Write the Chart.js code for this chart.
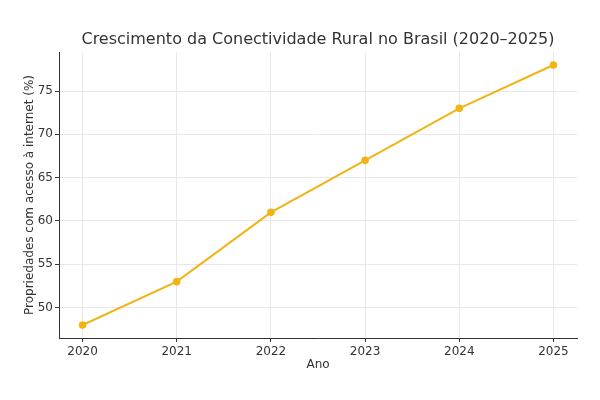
<!DOCTYPE html>
<html>
<head>
<meta charset="utf-8">
<script src="https://cdn.jsdelivr.net/npm/chart.js@4"></script>
<style>
html,body{margin:0;padding:0;background:#fff;}
#wrap{width:600px;height:400px;}
</style>
</head>
<body>
<div id="wrap"><canvas id="c" width="600" height="400"></canvas></div>
<script>
const years = [2020, 2021, 2022, 2023, 2024, 2025];
const values = [48, 53, 61, 67, 73, 78];
const yTicks = [50, 55, 60, 65, 70, 75];
const titleText = 'Crescimento da Conectividade Rural no Brasil (2020–2025)';
const xTitle = 'Ano';
const yTitle = 'Propriedades com acesso à internet (%)';

const FONT = 'DejaVu Sans';
const TXT = '#333333';
const GOLD = '#f1b415';

const axesTitle = {
  id: 'axesTitle',
  afterDraw(chart) {
    const {ctx, chartArea} = chart;
    ctx.save();
    ctx.fillStyle = TXT;
    ctx.font = '16px "' + FONT + '"';
    ctx.textAlign = 'center';
    ctx.textBaseline = 'middle';
    ctx.fillText(titleText, (chartArea.left + chartArea.right) / 2, 40);
    ctx.restore();
  }
};

new Chart(document.getElementById('c'), {
  type: 'line',
  data: {
    datasets: [{
      data: years.map((y, i) => ({x: y, y: values[i]})),
      borderColor: GOLD,
      backgroundColor: GOLD,
      borderWidth: 2,
      pointRadius: 2.8,
      pointHoverRadius: 2.8,
      tension: 0
    }]
  },
  plugins: [axesTitle],
  options: {
    responsive: false,
    animation: false,
    devicePixelRatio: 1,
    layout: {padding: {left: 0, right: 23, top: 52, bottom: 0}},
    plugins: {
      legend: {display: false},
      tooltip: {enabled: false},
      title: {display: false}
    },
    scales: {
      x: {
        type: 'linear',
        min: 2019.75,
        max: 2025.25,
        afterBuildTicks: s => { s.ticks = years.map(v => ({value: v})); },
        afterFit: s => { s.height = 62; },
        ticks: {
          color: TXT,
          font: {family: FONT, size: 12},
          padding: 3,
          callback: v => String(v)
        },
        grid: {color: '#e8e8e8', lineWidth: 1, tickLength: 4, tickColor: '#333'},
        border: {display: true, color: '#333', width: 1},
        title: {
          display: true, text: xTitle, color: TXT,
          font: {family: FONT, size: 12},
          padding: {top: 0, bottom: 28}
        }
      },
      y: {
        type: 'linear',
        min: 46.5,
        max: 79.5,
        afterBuildTicks: s => { s.ticks = yTicks.map(v => ({value: v})); },
        afterFit: s => { s.width = 59; },
        ticks: {
          color: TXT,
          font: {family: FONT, size: 12},
          padding: 2
        },
        grid: {color: '#e8e8e8', lineWidth: 1, tickLength: 4, tickColor: '#333'},
        border: {display: true, color: '#333', width: 1},
        title: {
          display: true, text: yTitle, color: TXT,
          font: {family: FONT, size: 12},
          padding: {top: 23, bottom: 0}
        }
      }
    }
  }
});
</script>
</body>
</html>
